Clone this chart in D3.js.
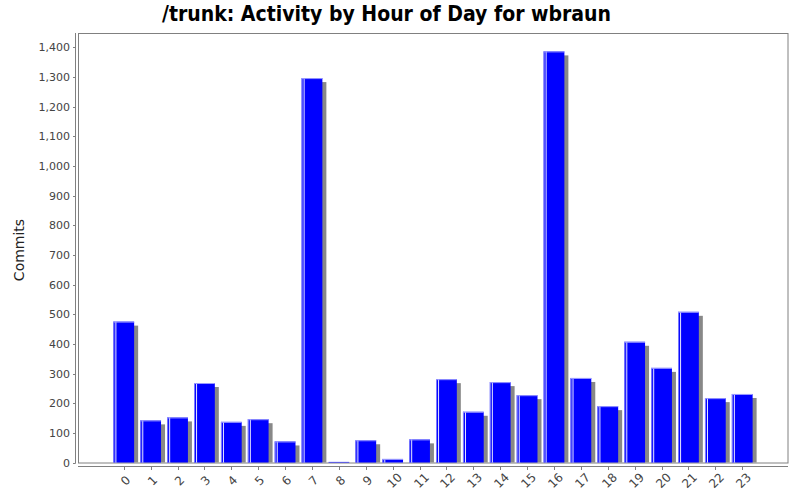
<!DOCTYPE html>
<html><head><meta charset="utf-8">
<script src="https://cdn.jsdelivr.net/npm/d3@7"></script>
<style>body{margin:0;background:#fff}svg{display:block}</style>
</head><body>
<svg id="c" width="800" height="500"></svg>
<script>
const hours = ["0","1","2","3","4","5","6","7","8","9","10","11","12","13","14","15","16","17","18","19","20","21","22","23"];
const commits = [475,142,152,268,137,146,71,1296,2,75,12,78,281,171,271,227,1386,285,190,407,319,508,217,231];
const yTicks = [0,100,200,300,400,500,600,700,800,900,1000,1100,1200,1300,1400];
const title = "/trunk: Activity by Hour of Day for wbraun";
const yLabel = "Commits";

const svg = d3.select("#c");
const L = 78, R = 788, T = 33, B = 462.5;

const x = d3.scaleBand().domain(hours).range([L, R]).paddingInner(0.228).paddingOuter(1.316);
const y = d3.scaleLinear().domain([0, 1448]).range([B, T]);

// title
svg.append("text").attr("x", 386.5).attr("y", 21)
  .attr("text-anchor", "middle")
  .attr("textLength", 449).attr("lengthAdjust", "spacingAndGlyphs")
  .style("font-family", "'DejaVu Sans Condensed','DejaVu Sans',sans-serif")
  .style("font-stretch", "condensed")
  .style("font-weight", "bold").style("font-size", "22px").attr("fill", "#000")
  .text(title);

// plot outline
svg.append("rect").attr("x", L + 0.5).attr("y", T + 0.5).attr("width", R - L - 0.5).attr("height", B - T)
  .attr("fill", "#fff").attr("stroke", "#808080").attr("stroke-width", 1);

// bars
const g = svg.append("g");
const bw = x.bandwidth();
hours.forEach((h, i) => {
  const v = commits[i];
  const x0 = x(h);
  const yt = y(v);
  const hgt = B - yt;
  g.append("rect").attr("x", x0 + 4).attr("y", Math.min(yt + 4, B)).attr("width", bw)
    .attr("height", Math.max(0, B - (yt + 4))).attr("fill", "#888888");
  g.append("rect").attr("x", x0).attr("y", yt).attr("width", bw).attr("height", hgt).attr("fill", "#0000ff");
  if (hgt > 1) {
    g.append("rect").attr("x", x0).attr("y", yt).attr("width", 1).attr("height", hgt).attr("fill", "#8080ff");
    g.append("rect").attr("x", x0 + 2).attr("y", yt).attr("width", 1).attr("height", hgt).attr("fill", "#e8e8ff");
    g.append("rect").attr("x", x0).attr("y", yt).attr("width", bw).attr("height", 1).attr("fill", "#9a9aff");
  }
});

// y axis
const ya = svg.append("g").attr("transform", `translate(75,0)`);
ya.append("line").attr("x1", 0.5).attr("x2", 0.5).attr("y1", T).attr("y2", B + 1).attr("stroke", "#808080");
yTicks.forEach(t => {
  const yy = Math.round(y(t)) + 0.5;
  ya.append("line").attr("x1", -2).attr("x2", 0.5).attr("y1", yy).attr("y2", yy).attr("stroke", "#808080");
  ya.append("text").attr("x", -5).attr("y", yy).attr("dy", "0.35em").attr("text-anchor", "end")
    .style("font-family", "'DejaVu Sans',sans-serif").style("font-size", "11px").attr("fill", "#444")
    .text(d3.format(",")(t));
});

// x axis
const xa = svg.append("g");
xa.append("line").attr("x1", L).attr("x2", R).attr("y1", 466.5).attr("y2", 466.5).attr("stroke", "#808080");
hours.forEach(h => {
  const cx = Math.round(x(h) + bw / 2) + 0.5;
  xa.append("line").attr("x1", cx).attr("x2", cx).attr("y1", 466.5).attr("y2", 470).attr("stroke", "#808080");
  xa.append("text").attr("transform", `translate(${cx + 1},480.5) rotate(-45)`)
    .attr("text-anchor", "middle").attr("dy", "0.35em")
    .style("font-family", "'DejaVu Sans',sans-serif").style("font-size", "12px").attr("fill", "#444")
    .text(h);
});

// y label
svg.append("text").attr("transform", "translate(24,250) rotate(-90)").attr("text-anchor", "middle")
  .style("font-family", "'DejaVu Sans',sans-serif").style("font-size", "14px").attr("fill", "#222")
  .text(yLabel);
</script>
</body></html>
